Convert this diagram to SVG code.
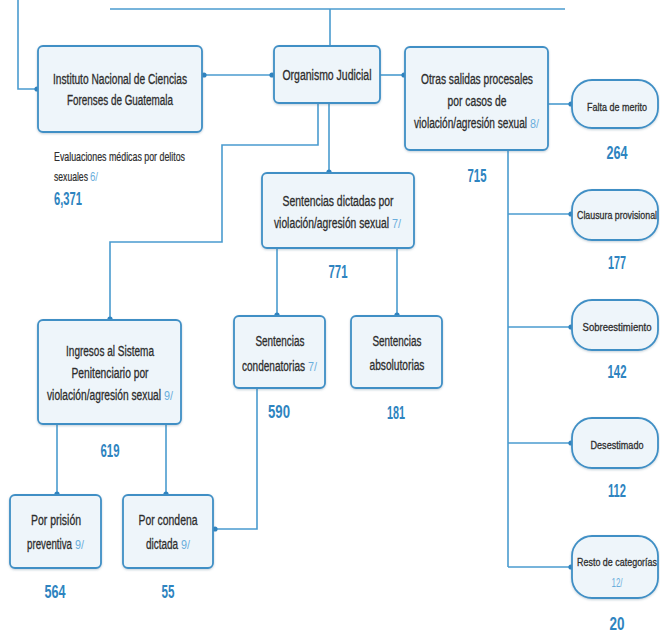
<svg xmlns="http://www.w3.org/2000/svg" width="660" height="634" viewBox="0 0 660 634">
<defs>
<style>
.box{fill:#eef5fa;stroke:#3f8fc5;stroke-width:1.8}
.pill{fill:#eef5fa;stroke:#3f8fc5;stroke-width:1.8}
.t{font-family:"Liberation Sans Narrow","Liberation Sans",Arial,sans-serif;font-size:14px;fill:#2d2d2d;stroke:#2d2d2d;stroke-width:0.3;text-anchor:middle}
.ts{font-family:"Liberation Sans Narrow","Liberation Sans",Arial,sans-serif;font-size:11.5px;fill:#2d2d2d;stroke:#2d2d2d;stroke-width:0.3;text-anchor:middle}
.tl{font-family:"Liberation Sans Narrow","Liberation Sans",Arial,sans-serif;font-size:12.5px;fill:#2d2d2d;stroke:#2d2d2d;stroke-width:0.2;text-anchor:start}
.fn{font-family:"Liberation Sans Narrow","Liberation Sans",Arial,sans-serif;font-size:12.5px;fill:#6aaedc;text-anchor:start}
.n{font-family:"Liberation Sans Narrow","Liberation Sans",Arial,sans-serif;font-size:18px;font-weight:bold;fill:#2e84c0;text-anchor:middle}
.st{text-anchor:start}
.c{fill:none;stroke:#4a9bcf;stroke-width:1.6}
.d{fill:#2e84c0}
</style>
<filter id="sh" x="-5%" y="-5%" width="110%" height="115%">
<feDropShadow dx="0" dy="1" stdDeviation="0.8" flood-color="#5a7a90" flood-opacity="0.35"/>
</filter>
</defs>
<rect width="660" height="634" fill="#ffffff"/>

<g id="connectors">
<path class="c" d="M110,9 H565"/>
<path class="c" d="M330,9 V46"/>
<path class="c" d="M18,0 V89 H38"/>
<path class="c" d="M202,75 H274"/>
<path class="c" d="M380,75 H405"/>
<path class="c" d="M548,104 H572"/>
<path class="c" d="M508,150 V567"/>
<path class="c" d="M508,214 H572"/>
<path class="c" d="M508,327 H572"/>
<path class="c" d="M508,443 H572"/>
<path class="c" d="M508,567 H572"/>
<path class="c" d="M329,103 V173"/>
<path class="c" d="M318,103 V145 H222 V242 H110 V320"/>
<path class="c" d="M277,248 V316"/>
<path class="c" d="M397,248 V316"/>
<path class="c" d="M57,424 V495"/>
<path class="c" d="M166,424 V495"/>
<path class="c" d="M257,388 V529 H213"/>
<circle class="d" cx="37" cy="89" r="2.6"/>
<circle class="d" cx="204" cy="75" r="2.6"/>
<circle class="d" cx="272" cy="75" r="2.6"/>
<circle class="d" cx="404" cy="75" r="2.6"/>
<circle class="d" cx="571" cy="104" r="2.6"/>
<circle class="d" cx="571" cy="214" r="2.6"/>
<circle class="d" cx="571" cy="327" r="2.6"/>
<circle class="d" cx="571" cy="443" r="2.6"/>
<circle class="d" cx="571" cy="567" r="2.6"/>
<circle class="d" cx="329" cy="172" r="2.6"/>
<circle class="d" cx="110" cy="319" r="2.6"/>
<circle class="d" cx="277" cy="315" r="2.6"/>
<circle class="d" cx="397" cy="315" r="2.6"/>
<circle class="d" cx="57" cy="494" r="2.6"/>
<circle class="d" cx="166" cy="494" r="2.6"/>
<circle class="d" cx="215" cy="529" r="2.6"/>
</g>

<g id="incf">
<rect class="box" filter="url(#sh)" x="38" y="46" width="164" height="86" rx="5"/>
<g transform="scale(0.75,1)">
<text class="t" x="160" y="84" textLength="178.7" lengthAdjust="spacingAndGlyphs">Instituto Nacional de Ciencias</text>
<text class="t" x="160" y="105" textLength="141.3" lengthAdjust="spacingAndGlyphs">Forenses de Guatemala</text>
<text class="tl" x="72" y="161" textLength="174.7" lengthAdjust="spacingAndGlyphs">Evaluaciones médicas por delitos</text>
<text class="tl" x="72" y="181" textLength="45.3" lengthAdjust="spacingAndGlyphs">sexuales</text>
<text class="fn" x="120" y="181" textLength="10.7" lengthAdjust="spacingAndGlyphs">6/</text>
<text class="n st" x="72" y="205" textLength="37.3" lengthAdjust="spacingAndGlyphs" style="text-anchor:start">6,371</text>
</g>
</g>

<g id="organismo">
<rect class="box" filter="url(#sh)" x="274" y="46" width="106" height="57" rx="5"/>
<g transform="scale(0.75,1)">
<text class="t" x="436" y="80" textLength="118.7" lengthAdjust="spacingAndGlyphs">Organismo Judicial</text>
</g>
</g>

<g id="otras">
<rect class="box" filter="url(#sh)" x="405" y="47" width="143" height="103" rx="5"/>
<g transform="scale(0.75,1)">
<text class="t" x="636" y="84" textLength="149.3" lengthAdjust="spacingAndGlyphs">Otras salidas procesales</text>
<text class="t" x="636" y="106" textLength="78.7" lengthAdjust="spacingAndGlyphs">por casos de</text>
<text class="t" x="552" y="128" textLength="150.7" lengthAdjust="spacingAndGlyphs" style="text-anchor:start">violación/agresión sexual</text>
<text class="fn" x="706.7" y="128" textLength="12" lengthAdjust="spacingAndGlyphs">8/</text>
<text class="n" x="636" y="182" textLength="25.3" lengthAdjust="spacingAndGlyphs">715</text>
</g>
</g>

<g id="falta">
<rect class="pill" filter="url(#sh)" x="572" y="80" width="86" height="48" rx="20"/>
<g transform="scale(0.75,1)">
<text class="ts" x="822.7" y="111" textLength="80" lengthAdjust="spacingAndGlyphs">Falta de merito</text>
<text class="n" x="822.7" y="159" textLength="28" lengthAdjust="spacingAndGlyphs">264</text>
</g>
</g>

<g id="clausura">
<rect class="pill" filter="url(#sh)" x="572" y="190" width="86" height="50" rx="20"/>
<g transform="scale(0.75,1)">
<text class="ts" x="822.7" y="219" textLength="106.7" lengthAdjust="spacingAndGlyphs">Clausura provisional</text>
<text class="n" x="822.7" y="269" textLength="24" lengthAdjust="spacingAndGlyphs">177</text>
</g>
</g>

<g id="sobreestimiento">
<rect class="pill" filter="url(#sh)" x="572" y="300" width="86" height="50" rx="20"/>
<g transform="scale(0.75,1)">
<text class="ts" x="822.7" y="331" textLength="92" lengthAdjust="spacingAndGlyphs">Sobreestimiento</text>
<text class="n" x="822.7" y="378" textLength="25.3" lengthAdjust="spacingAndGlyphs">142</text>
</g>
</g>

<g id="desestimado">
<rect class="pill" filter="url(#sh)" x="572" y="418" width="86" height="50" rx="20"/>
<g transform="scale(0.75,1)">
<text class="ts" x="822.7" y="449" textLength="70.7" lengthAdjust="spacingAndGlyphs">Desestimado</text>
<text class="n" x="822.7" y="497" textLength="24" lengthAdjust="spacingAndGlyphs">112</text>
</g>
</g>

<g id="resto">
<rect class="pill" filter="url(#sh)" x="572" y="536" width="86" height="62" rx="20"/>
<g transform="scale(0.75,1)">
<text class="ts" x="822.7" y="566" textLength="106.7" lengthAdjust="spacingAndGlyphs">Resto de categorías</text>
<text class="fn" x="822.7" y="587" textLength="14.7" lengthAdjust="spacingAndGlyphs" style="text-anchor:middle">12/</text>
<text class="n" x="822.7" y="630" textLength="20" lengthAdjust="spacingAndGlyphs">20</text>
</g>
</g>

<g id="sentencias-dictadas">
<rect class="box" filter="url(#sh)" x="262" y="173" width="152" height="75" rx="5"/>
<g transform="scale(0.75,1)">
<text class="t" x="450.7" y="206" textLength="148" lengthAdjust="spacingAndGlyphs">Sentencias dictadas por</text>
<text class="t" x="365.3" y="228" textLength="153.3" lengthAdjust="spacingAndGlyphs" style="text-anchor:start">violación/agresión sexual</text>
<text class="fn" x="522.7" y="228" textLength="12" lengthAdjust="spacingAndGlyphs">7/</text>
<text class="n" x="450.7" y="278" textLength="25.3" lengthAdjust="spacingAndGlyphs">771</text>
</g>
</g>

<g id="condenatorias">
<rect class="box" filter="url(#sh)" x="234" y="316" width="91" height="72" rx="5"/>
<g transform="scale(0.75,1)">
<text class="t" x="373.3" y="346" textLength="65.3" lengthAdjust="spacingAndGlyphs">Sentencias</text>
<text class="t" x="322.7" y="371" textLength="84" lengthAdjust="spacingAndGlyphs" style="text-anchor:start">condenatorias</text>
<text class="fn" x="410.7" y="371" textLength="12" lengthAdjust="spacingAndGlyphs">7/</text>
<text class="n" x="372" y="418" textLength="29.3" lengthAdjust="spacingAndGlyphs">590</text>
</g>
</g>

<g id="absolutorias">
<rect class="box" filter="url(#sh)" x="351" y="316" width="91" height="72" rx="5"/>
<g transform="scale(0.75,1)">
<text class="t" x="529.3" y="346" textLength="65.3" lengthAdjust="spacingAndGlyphs">Sentencias</text>
<text class="t" x="529.3" y="370" textLength="73.3" lengthAdjust="spacingAndGlyphs">absolutorias</text>
<text class="n" x="528" y="419" textLength="24" lengthAdjust="spacingAndGlyphs">181</text>
</g>
</g>

<g id="ingresos">
<rect class="box" filter="url(#sh)" x="38" y="320" width="143" height="104" rx="5"/>
<g transform="scale(0.75,1)">
<text class="t" x="146.7" y="356" textLength="117.3" lengthAdjust="spacingAndGlyphs">Ingresos al Sistema</text>
<text class="t" x="146.7" y="378" textLength="102.7" lengthAdjust="spacingAndGlyphs">Penitenciario por</text>
<text class="t" x="62.7" y="400" textLength="152" lengthAdjust="spacingAndGlyphs" style="text-anchor:start">violación/agresión sexual</text>
<text class="fn" x="218.7" y="400" textLength="12" lengthAdjust="spacingAndGlyphs">9/</text>
<text class="n" x="146.7" y="457" textLength="25.3" lengthAdjust="spacingAndGlyphs">619</text>
</g>
</g>

<g id="prision">
<rect class="box" filter="url(#sh)" x="10" y="495" width="91" height="73" rx="5"/>
<g transform="scale(0.75,1)">
<text class="t" x="74.7" y="525" textLength="66.7" lengthAdjust="spacingAndGlyphs">Por prisión</text>
<text class="t" x="36" y="549" textLength="60" lengthAdjust="spacingAndGlyphs" style="text-anchor:start">preventiva</text>
<text class="fn" x="100" y="549" textLength="12" lengthAdjust="spacingAndGlyphs">9/</text>
<text class="n" x="73.3" y="598" textLength="28" lengthAdjust="spacingAndGlyphs">564</text>
</g>
</g>

<g id="condena">
<rect class="box" filter="url(#sh)" x="123" y="495" width="90" height="73" rx="5"/>
<g transform="scale(0.75,1)">
<text class="t" x="224" y="525" textLength="78.7" lengthAdjust="spacingAndGlyphs">Por condena</text>
<text class="t" x="194.7" y="549" textLength="42.7" lengthAdjust="spacingAndGlyphs" style="text-anchor:start">dictada</text>
<text class="fn" x="241.3" y="549" textLength="12" lengthAdjust="spacingAndGlyphs">9/</text>
<text class="n" x="224" y="598" textLength="17.3" lengthAdjust="spacingAndGlyphs">55</text>
</g>
</g>
</svg>
